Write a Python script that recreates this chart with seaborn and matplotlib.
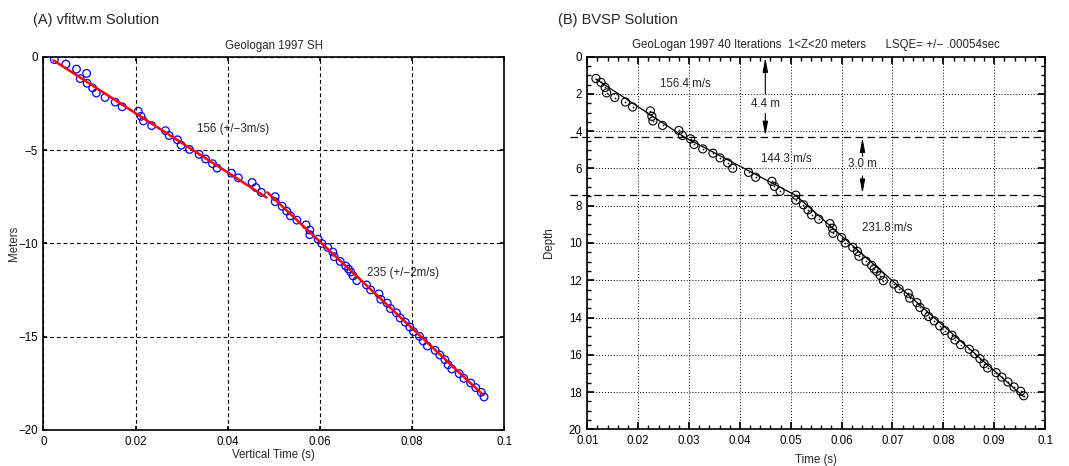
import numpy as np
import pandas as pd
import matplotlib
matplotlib.use("Agg")
import matplotlib.pyplot as plt
import seaborn as sns
from matplotlib.ticker import MultipleLocator

# ---------------- data: panel A (vfitw.m) ----------------
a_time = [0.0024, 0.0049, 0.0072, 0.0094, 0.0080, 0.0095, 0.0107, 0.0115, 0.0134, 0.0156,
          0.0171, 0.0206, 0.0212, 0.0217, 0.0235, 0.0265, 0.0273, 0.0291, 0.0299, 0.0317,
          0.0338, 0.0352, 0.0367, 0.0377, 0.0408, 0.0423, 0.0453, 0.0461, 0.0473, 0.0503,
          0.0503, 0.0518, 0.0528, 0.0536, 0.0550, 0.0570, 0.0578, 0.0578, 0.0596, 0.0604,
          0.0617, 0.0628, 0.0631, 0.0644, 0.0656, 0.0662, 0.0667, 0.0672, 0.0680, 0.0701,
          0.0710, 0.0728, 0.0732, 0.0746, 0.0753, 0.0766, 0.0774, 0.0785, 0.0795, 0.0803,
          0.0816, 0.0824, 0.0833, 0.0850, 0.0860, 0.0871, 0.0878, 0.0886, 0.0902, 0.0912,
          0.0927, 0.0938, 0.0950, 0.0956]
a_depth = [-0.14, -0.38, -0.65, -0.88, -1.16, -1.41, -1.66, -1.93, -2.17, -2.42,
           -2.67, -2.91, -3.18, -3.43, -3.68, -3.95, -4.21, -4.44, -4.73, -4.96,
           -5.22, -5.47, -5.72, -5.96, -6.23, -6.48, -6.73, -7.00, -7.26, -7.49,
           -7.76, -8.00, -8.27, -8.52, -8.75, -9.00, -9.28, -9.53, -9.77, -10.00,
           -10.21, -10.46, -10.71, -10.96, -11.21, -11.37, -11.53, -11.74, -11.99, -12.22,
           -12.49, -12.70, -12.99, -13.20, -13.49, -13.72, -13.99, -14.22, -14.48, -14.73,
           -14.98, -15.23, -15.50, -15.73, -15.98, -16.23, -16.50, -16.73, -16.98, -17.23,
           -17.48, -17.73, -17.98, -18.23]
a_fit1_time = [0.0022, 0.0484]
a_fit1_depth = [-0.18, -7.53]
a_fit2_time = [0.0486, 0.0953]
a_fit2_depth = [-7.26, -18.10]

# ---------------- data: panel B (BVSP) ----------------
b_time = [0.0117, 0.0127, 0.0135, 0.0138, 0.0154, 0.0175, 0.0189, 0.0224, 0.0227, 0.0229,
          0.0248, 0.0280, 0.0287, 0.0303, 0.0310, 0.0327, 0.0347, 0.0361, 0.0376, 0.0386,
          0.0417, 0.0431, 0.0463, 0.0468, 0.0479, 0.0510, 0.0510, 0.0525, 0.0534, 0.0541,
          0.0555, 0.0577, 0.0582, 0.0583, 0.0600, 0.0607, 0.0622, 0.0631, 0.0634, 0.0648,
          0.0659, 0.0664, 0.0669, 0.0676, 0.0682, 0.0703, 0.0713, 0.0731, 0.0734, 0.0748,
          0.0754, 0.0765, 0.0771, 0.0782, 0.0793, 0.0803, 0.0817, 0.0823, 0.0834, 0.0851,
          0.0862, 0.0872, 0.0880, 0.0887, 0.0904, 0.0915, 0.0927, 0.0939, 0.0952, 0.0958]
b_depth = [1.17, 1.38, 1.65, 1.94, 2.19, 2.43, 2.70, 2.91, 3.20, 3.45,
           3.69, 3.96, 4.23, 4.41, 4.71, 4.95, 5.18, 5.43, 5.70, 5.99,
           6.21, 6.47, 6.69, 6.96, 7.23, 7.43, 7.70, 7.95, 8.22, 8.49,
           8.72, 8.96, 9.21, 9.48, 9.71, 10.00, 10.23, 10.45, 10.71, 10.98,
           11.20, 11.39, 11.52, 11.75, 12.02, 12.20, 12.46, 12.70, 12.96, 13.20,
           13.46, 13.71, 13.95, 14.18, 14.45, 14.70, 14.95, 15.20, 15.46, 15.70,
           15.95, 16.21, 16.48, 16.71, 16.96, 17.20, 17.46, 17.73, 17.96, 18.20]
b_fit_time = [0.0117, 0.0290, 0.0510, 0.0958]
b_fit_depth = [1.20, 4.30, 7.45, 18.25]
b_layer_depths = [4.3, 7.4]

sns.set_theme(style="white")
plt.rcParams['font.family'] = ['Liberation Sans', 'DejaVu Sans']
plt.rcParams['axes.unicode_minus'] = True

fig = plt.figure(figsize=(10.69, 4.66), dpi=100)
axA = fig.add_axes([0.0405, 0.0773, 0.4313, 0.8004])
axB = fig.add_axes([0.5494, 0.0788, 0.4282, 0.7995])

TS = 8.3

# ---------------- Panel A ----------------
dfA = pd.DataFrame({"t": a_time, "d": a_depth})
sns.scatterplot(data=dfA, x="t", y="d", ax=axA, marker="o", s=30,
                facecolor="none", edgecolor="#0000ff", linewidth=0.9, zorder=3)
sns.lineplot(x=a_fit1_time, y=a_fit1_depth, ax=axA, color="red", lw=1.8,
             sort=False, estimator=None, zorder=4)
sns.lineplot(x=a_fit2_time, y=a_fit2_depth, ax=axA, color="red", lw=1.8,
             sort=False, estimator=None, zorder=4)
axA.set_xlim(0, 0.1)
axA.set_ylim(-20, 0)
axA.set_xticks([0, 0.02, 0.04, 0.06, 0.08, 0.1])
axA.set_xticklabels(["0", "0.02", "0.04", "0.06", "0.08", "0.1"])
axA.set_yticks([-20, -15, -10, -5, 0])
axA.grid(True, color="black", linestyle=(0, (3.5, 2.5)), linewidth=0.8)
axA.tick_params(direction="in", length=3, labelsize=TS, pad=4, colors="black",
                top=True, right=True, bottom=True, left=True)
for sp in axA.spines.values():
    sp.set_color("black"); sp.set_linewidth(1.2)
axA.set_xlabel("Vertical Time (s)", fontsize=TS, labelpad=1)
axA.set_ylabel("Meters", fontsize=TS, labelpad=-1)
axA.set_title("Geologan 1997 SH", fontsize=TS, pad=6)
axA.text(0.0412, -3.85, "156 (+/\u22123m/s)", fontsize=TS, ha="center", va="center")
axA.text(0.0781, -11.58, "235 (+/\u22122m/s)", fontsize=TS, ha="center", va="center")
fig.text(0.031, 0.957, "(A) vfitw.m Solution", fontsize=10.5, ha="left", va="center")

# ---------------- Panel B ----------------
dfB = pd.DataFrame({"t": b_time, "d": b_depth})
sns.lineplot(x=b_fit_time, y=b_fit_depth, ax=axB, color="black", lw=0.9,
             sort=False, estimator=None, zorder=3)
sns.scatterplot(data=dfB, x="t", y="d", ax=axB, marker="o", s=34,
                facecolor="none", edgecolor="black", linewidth=0.8, zorder=4)
sns.scatterplot(data=dfB, x="t", y="d", ax=axB, marker="o", s=1.5,
                color="black", linewidth=0, zorder=5)
for dl in b_layer_depths:
    axB.plot([0.0065, 0.1], [dl, dl], color="black", lw=0.9,
             linestyle=(0, (6, 3.5)), clip_on=False, zorder=2)
axB.set_xlim(0.01, 0.1)
axB.set_ylim(20, 0)
axB.set_xticks(np.round(np.arange(0.01, 0.1001, 0.01), 2))
axB.set_xticklabels(["0.01", "0.02", "0.03", "0.04", "0.05", "0.06", "0.07",
                     "0.08", "0.09", "0.1"])
axB.set_yticks(np.arange(0, 21, 2))
axB.xaxis.set_minor_locator(MultipleLocator(0.002))
axB.yaxis.set_minor_locator(MultipleLocator(0.5))
axB.grid(True, which="major", color="black", linestyle=(0, (1, 2)), linewidth=0.7)
axB.tick_params(which="major", direction="in", length=5, labelsize=TS, pad=4,
                colors="black", top=True, right=True, bottom=True, left=True)
axB.tick_params(which="minor", direction="in", length=3, top=True, right=True,
                bottom=True, left=True, colors="black")
for sp in axB.spines.values():
    sp.set_color("black"); sp.set_linewidth(1.2)
axB.set_xlabel("Time (s)", fontsize=TS, labelpad=5)
axB.set_ylabel("Depth", fontsize=TS, labelpad=10)
axB.set_title("GeoLogan 1997 40 Iterations  1<Z<20 meters      LSQE= +/\u2212 .00054sec",
              fontsize=TS, pad=6)
axB.text(0.0292, 1.44, "156.4 m/s", fontsize=TS, ha="center", va="center")
axB.text(0.0491, 5.49, "144.3 m/s", fontsize=TS, ha="center", va="center")
axB.text(0.0690, 9.21, "231.8 m/s", fontsize=TS, ha="center", va="center")
# thickness arrows
arr = dict(arrowstyle="-|>,head_length=0.7,head_width=0.13", color="black", lw=0.8,
           shrinkA=0, shrinkB=0)
axB.text(0.045, 2.52, "4.4 m", fontsize=TS, ha="center", va="center")
axB.annotate("", xy=(0.045, 0.05), xytext=(0.045, 2.0), arrowprops=arr)
axB.annotate("", xy=(0.045, 4.25), xytext=(0.045, 3.05), arrowprops=arr)
axB.text(0.0641, 5.76, "3.0 m", fontsize=TS, ha="center", va="center")
axB.annotate("", xy=(0.0641, 4.35), xytext=(0.0641, 5.35), arrowprops=arr)
axB.annotate("", xy=(0.0641, 7.35), xytext=(0.0641, 6.4), arrowprops=arr)
fig.text(0.522, 0.957, "(B) BVSP Solution", fontsize=10.5, ha="left", va="center")

fig.savefig("out.png", dpi=100)
